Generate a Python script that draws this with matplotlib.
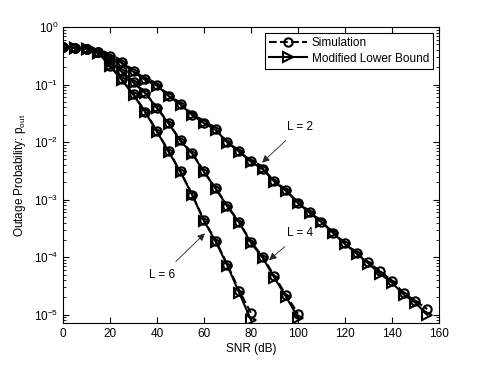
import numpy as np
import matplotlib
matplotlib.use("Agg")
from matplotlib import pyplot as plt

plt.rcParams['font.family'] = ['Liberation Sans', 'DejaVu Sans']
plt.rcParams['mathtext.fontset'] = 'custom'
plt.rcParams['mathtext.rm'] = 'Liberation Sans'

snr = np.arange(0, 160, 5)

# log10 of outage probability, bound (triangles)
bound_l2 = [-0.35, -0.365, -0.38, -0.45, -0.52, -0.625, -0.78, -0.92, -1.02, -1.20,
            -1.35, -1.53, -1.67, -1.79, -2.01, -2.17, -2.34, -2.47, -2.69, -2.85,
            -3.06, -3.23, -3.39, -3.58, -3.77, -3.94, -4.11, -4.29, -4.44, -4.65,
            -4.79, -5.0]
bound_l4 = [-0.35, -0.365, -0.38, -0.45, -0.61, -0.78, -0.97, -1.15, -1.41, -1.68,
            -1.98, -2.20, -2.52, -2.81, -3.12, -3.40, -3.75, -4.01, -4.36, -4.69,
            -5.05]
bound_l6 = [-0.35, -0.365, -0.38, -0.45, -0.68, -0.92, -1.18, -1.48, -1.82, -2.17,
            -2.52, -2.92, -3.37, -3.73, -4.15, -4.62, -5.09]

# simulation (circles)
sim_l2 = [-0.35, -0.36, -0.375, -0.44, -0.51, -0.615, -0.77, -0.91, -1.01, -1.19,
          -1.34, -1.52, -1.66, -1.78, -2.0, -2.16, -2.33, -2.46, -2.68, -2.84,
          -3.05, -3.22, -3.38, -3.57, -3.76, -3.93, -4.09, -4.24, -4.41, -4.62,
          -4.76, -4.90]
sim_l4 = [-0.35, -0.36, -0.375, -0.44, -0.60, -0.77, -0.96, -1.14, -1.40, -1.67,
          -1.97, -2.19, -2.51, -2.80, -3.11, -3.39, -3.73, -3.99, -4.33, -4.66,
          -4.98]
sim_l6 = [-0.35, -0.36, -0.375, -0.44, -0.67, -0.91, -1.17, -1.47, -1.81, -2.16,
          -2.51, -2.91, -3.36, -3.71, -4.13, -4.58, -4.97]

labels = ["L = 2", "L = 4", "L = 6"]
label_xy = [(101, 0.0184), (101, 2.6e-4), (42, 4.9e-5)]
arrow_xy = [(84.7, 4.4e-3), (87.7, 8.9e-5), (60.4, 2.6e-4)]

fs = 8.5

fig = plt.figure(figsize=(4.85, 3.65), dpi=100)
ax = fig.add_axes([0.130, 0.115, 0.775, 0.811])

for i, (b, s) in enumerate([(bound_l2, sim_l2), (bound_l4, sim_l4), (bound_l6, sim_l6)]):
    xb = snr[:len(b)]
    xs = snr[:len(s)]
    ax.plot(xs, 10.0 ** np.array(s), '--o', color='k', lw=1.5, ms=6,
            mfc='none', mew=1.5, label='Simulation' if i == 0 else None)
    ax.plot(xb, 10.0 ** np.array(b), '->', color='k', lw=1.5, ms=6.5,
            mfc='none', mew=1.5, label='Modified Lower Bound' if i == 0 else None)

for t, txy, axy in zip(labels, label_xy, arrow_xy):
    ax.annotate(t, xy=axy, xytext=txy, ha='center', va='center', fontsize=fs,
                arrowprops=dict(arrowstyle='-|>', color='0.15', lw=0.6,
                                mutation_scale=11, shrinkA=5, shrinkB=0))

ax.set_yscale('log')
ax.set_xlim(0, 160)
ax.set_ylim(7.2e-6, 1)
ax.set_xticks(np.arange(0, 161, 20))
ax.set_yticks([1e-5, 1e-4, 1e-3, 1e-2, 1e-1, 1])
ax.tick_params(which='both', direction='in', top=True, right=True, labelsize=fs)
ax.tick_params(which='major', length=4)
ax.tick_params(which='minor', length=2)
ax.set_xlabel('SNR (dB)', fontsize=fs, labelpad=2)
ax.set_ylabel(r'Outage Probability: p$_{\mathrm{out}}$', fontsize=fs, labelpad=4)

leg = ax.legend(loc='upper right', fontsize=fs, frameon=True, fancybox=False,
                edgecolor='k', framealpha=1, handlelength=3.2, borderaxespad=0.5,
                borderpad=0.35, labelspacing=0.3, handletextpad=0.4)
leg.get_frame().set_linewidth(0.8)

fig.savefig('out.png', dpi=100)
